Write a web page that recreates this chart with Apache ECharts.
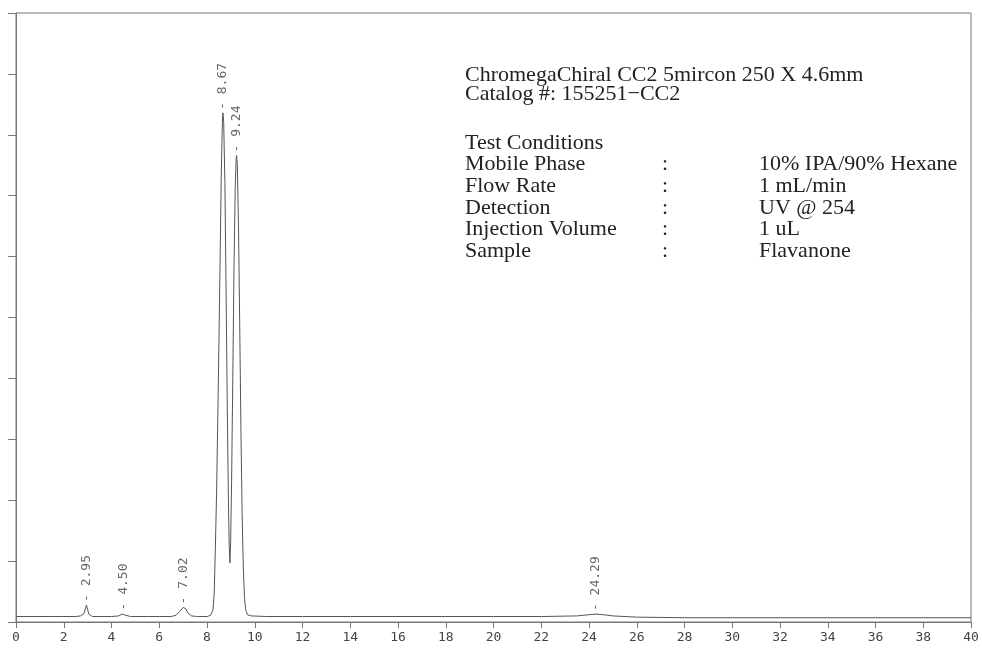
<!DOCTYPE html>
<html>
<head>
<meta charset="utf-8">
<script src="https://cdn.jsdelivr.net/npm/echarts@6/dist/echarts.min.js"></script>
<style>html,body{margin:0;padding:0;background:#fff}#c{width:982px;height:649px}</style>
</head>
<body>
<div id="c"></div>
<script>
// retention time (min) and detector signal (arbitrary units, axis 0..10)
var times = [0, 0.5, 1.0, 1.5, 2.0, 2.5, 2.7, 2.85, 2.95, 3.05, 3.2, 3.6, 4.0, 4.3, 4.45, 4.5, 4.6, 4.8, 5.5, 6.0, 6.5, 6.7, 6.85, 7.0, 7.1, 7.2, 7.35, 7.6, 8.0, 8.15, 8.25, 8.3, 8.35, 8.4, 8.45, 8.5, 8.55, 8.6, 8.65, 8.67, 8.7, 8.75, 8.8, 8.85, 8.9, 8.93, 8.96, 8.99, 9.03, 9.08, 9.13, 9.18, 9.22, 9.24, 9.27, 9.32, 9.37, 9.42, 9.47, 9.52, 9.57, 9.62, 9.7, 9.85, 10.5, 12, 14, 16, 18, 20, 22, 23.5, 24.0, 24.29, 24.6, 25.0, 26, 28, 30, 32, 34, 36, 38, 40];
var signal = [0.09, 0.09, 0.09, 0.09, 0.09, 0.09, 0.10, 0.14, 0.28, 0.13, 0.09, 0.09, 0.09, 0.10, 0.13, 0.14, 0.11, 0.09, 0.09, 0.09, 0.09, 0.11, 0.17, 0.24, 0.22, 0.15, 0.10, 0.09, 0.09, 0.11, 0.20, 0.45, 1.2, 2.1, 3.3, 4.6, 6.0, 7.4, 8.3, 8.36, 8.2, 7.2, 5.4, 3.5, 1.9, 1.25, 0.97, 1.3, 2.3, 4.0, 5.8, 7.1, 7.6, 7.66, 7.5, 6.5, 4.9, 3.2, 1.8, 0.9, 0.4, 0.2, 0.12, 0.10, 0.09, 0.09, 0.09, 0.09, 0.09, 0.09, 0.09, 0.10, 0.12, 0.13, 0.12, 0.10, 0.08, 0.07, 0.07, 0.07, 0.07, 0.07, 0.07, 0.07];

// peak annotations
var peakTimes = [2.95, 4.50, 7.02, 8.67, 9.24, 24.29];
var peakHeights = [0.28, 0.14, 0.24, 8.36, 7.66, 0.13];
var peakLabels = ['2.95', '4.50', '7.02', '8.67', '9.24', '24.29'];

// axis ticks
var xMin = 0, xMax = 40, xStep = 2;
var yMin = 0, yMax = 10, yStep = 1;

// info block text
var headerLines = ['ChromegaChiral CC2 5mircon 250 X 4.6mm', 'Catalog #: 155251\u2212CC2'];
var condTitle = 'Test Conditions';
var condNames = ['Mobile Phase', 'Flow Rate', 'Detection', 'Injection Volume', 'Sample'];
var condValues = ['10% IPA/90% Hexane', '1 mL/min', 'UV @ 254', '1 uL', 'Flavanone'];

var chart = echarts.init(document.getElementById('c'));

var serifFont = '22px "Liberation Serif", "DejaVu Serif", serif';
function txt(t, x, y) {
  return { type: 'text', x: x, y: y, silent: true, style: { text: t, fill: '#222', font: serifFont, verticalAlign: 'middle' } };
}
var graphics = [];
var headY = [75.5, 94.5];
headerLines.forEach(function (t, i) { graphics.push(txt(t, 465, headY[i])); });
graphics.push(txt(condTitle, 465, 143));
var rowY = [164, 186, 208, 229.5, 251];
condNames.forEach(function (t, i) {
  graphics.push(txt(t, 465, rowY[i]));
  graphics.push(txt(':', 662, rowY[i]));
  graphics.push(txt(condValues[i], 759, rowY[i]));
});

chart.setOption({
  animation: false,
  backgroundColor: '#fff',
  grid: { left: 16, right: 11, top: 13, bottom: 27, show: true, borderColor: '#777', borderWidth: 1 },
  xAxis: {
    type: 'value', min: xMin, max: xMax, interval: xStep,
    axisLine: { show: true, lineStyle: { color: '#777', width: 1 } },
    axisTick: { show: true, inside: false, length: 6, lineStyle: { color: '#777' } },
    axisLabel: { show: true, margin: 9, color: '#444', fontFamily: '"DejaVu Sans Mono", monospace', fontSize: 13 },
    splitLine: { show: false }
  },
  yAxis: {
    type: 'value', min: yMin, max: yMax, interval: yStep,
    axisLine: { show: true, lineStyle: { color: '#777', width: 1 } },
    axisTick: { show: true, inside: false, length: 8, lineStyle: { color: '#777' } },
    axisLabel: { show: false },
    splitLine: { show: false }
  },
  series: [
    {
      type: 'line',
      data: times.map(function (t, i) { return [t, signal[i]]; }),
      showSymbol: false,
      symbol: 'none',
      lineStyle: { color: '#555', width: 1 },
      silent: true
    },
    {
      type: 'scatter',
      data: peakTimes.map(function (t, i) { return { value: [t, peakHeights[i]], name: peakLabels[i] }; }),
      symbolSize: 0,
      silent: true,
      label: {
        show: true, position: 'top', distance: 3, rotate: 90, align: 'left', verticalAlign: 'middle',
        formatter: function (p) { return '- ' + p.name; },
        color: '#444', fontFamily: '"DejaVu Sans Mono", monospace', fontSize: 13
      }
    }
  ],
  graphic: graphics
});
</script>
</body>
</html>
